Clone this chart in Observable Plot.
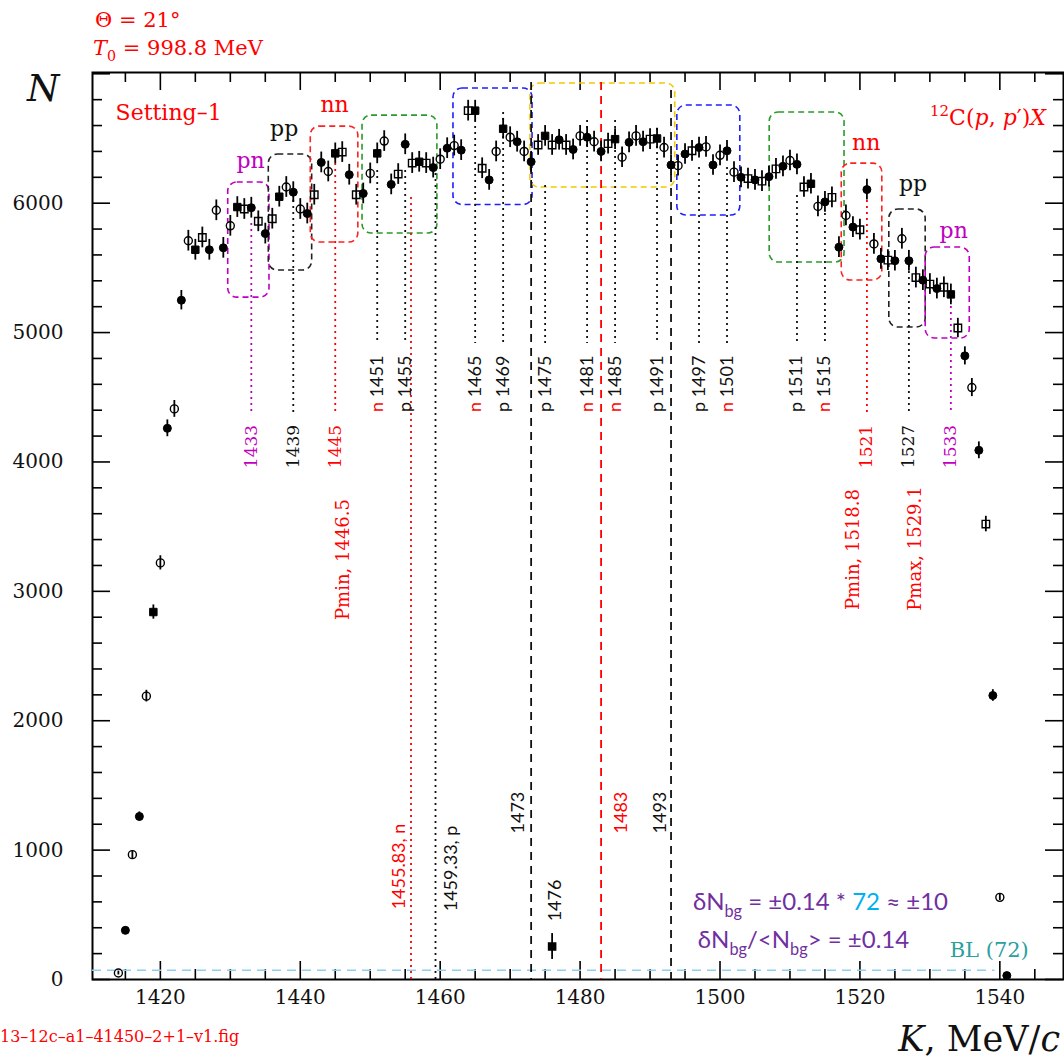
<!DOCTYPE html>
<html><head><meta charset="utf-8">
<script src="https://cdn.jsdelivr.net/npm/d3@7"></script>
<script src="https://cdn.jsdelivr.net/npm/@observablehq/plot@0.6"></script>
<style>body{margin:0;background:#fff}#chart svg{display:block}</style>
</head><body><div id="chart"></div>
<script>
// ---- data ----
const K = [
1414,1415,1416,1417,1418,1419,1420,1421,1422,1423,
1424,1425,1426,1427,1428,1429,1430,1431,1432,1433,
1434,1435,1436,1437,1438,1439,1440,1441,1442,1443,
1444,1445,1446,1447,1448,1449,1450,1451,1452,1453,
1454,1455,1456,1457,1458,1459,1460,1461,1462,1463,
1464,1465,1466,1467,1468,1469,1470,1471,1472,1473,
1474,1475,1476,1477,1478,1479,1480,1481,1482,1483,
1484,1485,1486,1487,1488,1489,1490,1491,1492,1493,
1494,1495,1496,1497,1498,1499,1500,1501,1502,1503,
1504,1505,1506,1507,1508,1509,1510,1511,1512,1513,
1514,1515,1516,1517,1518,1519,1520,1521,1522,1523,
1524,1525,1526,1527,1528,1529,1530,1531,1532,1533,
1534,1535,1536,1537,1538,1539,1540,1541];
const N = [
50,380,965,1260,2190,2840,3220,4260,4410,5250,
5710,5640,5735,5640,5945,5655,5825,5970,5955,5965,
5860,5765,5880,6050,6125,6085,5955,5920,6065,6315,
6245,6385,6395,6220,6065,6075,6230,6385,6480,6145,
6225,6455,6310,6320,6310,6275,6340,6425,6445,6410,
6715,6715,6270,6180,6400,6575,6510,6475,6400,6320,
6450,6520,6450,6490,6450,6415,6520,6510,6475,6400,
6460,6495,6355,6470,6520,6475,6495,6500,6430,6295,
6290,6380,6405,6430,6435,6295,6370,6405,6240,6200,
6190,6180,6170,6205,6265,6285,6330,6300,6125,6150,
5975,6010,6045,5660,5905,5815,5795,6105,5685,5570,
5560,5555,5725,5555,5425,5405,5375,5340,5350,5295,
5035,4820,4575,4090,3520,2195,635,30];
const ERR = [
15,25,30,35,45,55,55,65,65,75,
80,80,80,80,80,80,80,80,80,80,
80,80,80,80,80,80,80,80,80,80,
80,80,80,80,80,80,80,80,80,80,
80,80,80,80,80,80,80,80,80,80,
80,80,80,80,80,80,80,80,80,80,
80,80,80,80,80,80,80,80,80,80,
80,80,80,80,80,80,80,80,80,80,
80,80,80,80,80,80,80,80,80,80,
80,80,80,80,80,80,80,80,80,80,
80,80,80,80,80,80,80,80,80,80,
80,80,80,80,80,80,80,80,80,80,
75,70,70,65,60,45,25,10];
// f = filled, o = open ; c = circle, s = square
const MARK = (
"oc fc oc fc oc fs oc fc oc fc " +
"oc fs os fc oc fc oc fs os fc " +
"os fc os fs oc fc oc fc os fc " +
"oc fs os fc os fc oc fs oc fc " +
"os fc os fs os fc oc fc oc fc " +
"os fs os fc oc fs oc fc oc fc " +
"os fs os fc os fc oc fc oc fc " +
"os fs oc fc oc fc os fs oc fc " +
"oc fc os fc oc fc oc fc oc fc " +
"os fc os fc os fc oc fc os fs " +
"oc fc os fc oc fc os fc oc fc " +
"os fc oc fc os fc os fc os fs " +
"os fc oc fc os fc oc fc").split(" ");

const extraK = [1476], extraN = [255], extraErr = [100];

const xMajor = [1420,1440,1460,1480,1500,1520,1540];
const xMinor = [1415,1425,1430,1435,1445,1450,1455,1465,1470,1475,1485,1490,1495,1505,1510,1515,1525,1530,1535,1545];
const yMajor = [0,1000,2000,3000,4000,5000,6000,7000];
const yMinor = [200,400,600,800,1200,1400,1600,1800,2200,2400,2600,2800,3200,3400,3600,3800,4200,4400,4600,4800,5200,5400,5600,5800,6200,6400,6600,6800];
const xLabels = [1420,1440,1460,1480,1500,1520,1540];
const yLabels = [0,1000,2000,3000,4000,5000,6000];

// dashed boxes: K range, N range, colour
const boxK1 = [1429.7,1435.5,1441.5,1448.9,1461.9,1472.9,1493.9,1507.1,1517.4,1524.2,1529.4];
const boxK2 = [1435.6,1441.7,1448.3,1459.6,1473.2,1493.6,1502.9,1517.8,1523.2,1529.4,1535.7];
const boxN1 = [5270,5480,5696,5766,5986,6121,5905,5541,5402,5039,4954];
const boxN2 = [6160,6376,6592,6677,6886,6925,6755,6701,6306,5951,5657];
const boxColor = ["#c000c0","#222","#ff2020","#2a9a2a","#1f1fff","#f5c800","#1f1fff","#2a9a2a","#ff2020","#222","#c000c0"];
const boxLabelText = ["pn","pp","nn","nn","pp","pn"];
const boxLabelK = [1432.9,1437.7,1444.9,1520.9,1527.6,1533.4];
const boxLabelN = [6330,6577,6762,6469,6152,5789];
const boxLabelColor = ["#c000c0","#111","#ff0000","#ff0000","#111","#c000c0"];

// short dotted marker lines with labels below (group B)
const peakB = [1433,1439,1445,1521,1527,1533];
const peakBTop = [5843,6021,6353,6021,5518,5248];
const peakBColor = ["#c000c0","#111","#ff0000","#ff0000","#111","#c000c0"];
// short dotted marker lines with "n/p" labels (group A)
const peakA = [1451,1455,1465,1469,1475,1481,1485,1491,1497,1501,1511,1515];
const peakATop = [6252,6252,6639,6701,6136,6639,6639,6577,6276,6276,6059,5920];
const peakAType = ["n","p","n","p","p","n","n","p","p","n","p","n"];
const lineABottom = 4915, lineBBottom = 4374, labelABase = 4382, labelBCenter = 4119;

// long lines
const longK = [1455.83,1459.33,1473,1483,1493];
const longTop = [6044,6276,6933,6933,6871];
const longColor = ["#ff0000","#111","#111","#ff0000","#111"];
const longDash = ["2,3","2,4","8,6","8,6","8,6"];
const longLabel = ["1455.83, n","1459.33, p","1473","1483","1493","1476"];
const longLabelK = [1454.2,1461.6,1471.2,1485.9,1491.5,1476.5];
const longLabelN = [873,858,1290,1290,1290,611];
const longLabelColor = ["#ff0000","#111","#111","#ff0000","#111","#111"];

const pminText = ["Pmin, 1446.5","Pmin, 1518.8","Pmax, 1529.1"];
const pminK = [1446.2,1519.1,1527.9];
const pminN = [3246,3323,3331];

const baselineN = 72, baselineK1 = 1410.3, baselineK2 = 1539.3;

// ---- build tables ----
const pts = K.map((k,i)=>({k, n:N[i], e:ERR[i], m:MARK[i]}));
const extra = extraK.map((k,i)=>({k, n:extraN[i], e:extraErr[i]}));
const boxes = boxK1.map((k1,i)=>({k1, k2:boxK2[i], n1:boxN1[i], n2:boxN2[i], c:boxColor[i]}));
const boxLabels = boxLabelText.map((t,i)=>({t, k:boxLabelK[i], n:boxLabelN[i], c:boxLabelColor[i]}));
const linesB = peakB.map((k,i)=>({k, top:peakBTop[i], bot:lineBBottom, c:peakBColor[i]}));
const linesA = peakA.map((k,i)=>({k, top:peakATop[i], bot:lineABottom, c: "#111"}));
const longs = longK.map((k,i)=>({k, top:longTop[i], c:longColor[i], d:longDash[i]}));
const longLabs = longLabel.map((t,i)=>({t, k:longLabelK[i], n:longLabelN[i], c:longLabelColor[i]}));
const pmins = pminText.map((t,i)=>({t, k:pminK[i], n:pminN[i]}));

const plotH = 979 - 72;
const serif = "DejaVu Serif";

const marks = [
  Plot.frame({stroke:"black", strokeWidth:2}),
  Plot.tickX(xMajor, {x:d=>d, insetTop: plotH-18, stroke:"black", strokeWidth:1.6}),
  Plot.tickX(xMinor, {x:d=>d, insetTop: plotH-10, stroke:"black", strokeWidth:1.6}),
  Plot.tickX(xMajor, {x:d=>d, insetBottom: plotH-18, stroke:"black", strokeWidth:1.6}),
  Plot.tickX(xMinor, {x:d=>d, insetBottom: plotH-10, stroke:"black", strokeWidth:1.6}),
  Plot.tickY(yMajor, {y:d=>d, insetRight: 971-18, stroke:"black", strokeWidth:1.6}),
  Plot.tickY(yMinor, {y:d=>d, insetRight: 971-10, stroke:"black", strokeWidth:1.6}),
  Plot.tickY(yMajor, {y:d=>d, insetLeft: 971-18, stroke:"black", strokeWidth:1.6}),
  Plot.tickY(yMinor, {y:d=>d, insetLeft: 971-10, stroke:"black", strokeWidth:1.6}),
  Plot.text(xLabels, {x:d=>d, text:d=>String(d), frameAnchor:"bottom", dy:24, fontSize:20, fontFamily:serif, fill:"#111"}),
  Plot.text(yLabels, {y:d=>d, text:d=>String(d), frameAnchor:"left", dx:-29, textAnchor:"end", fontSize:20, fontFamily:serif, fill:"#111"}),
  Plot.rect(boxes, {x1:"k1", x2:"k2", y1:"n1", y2:"n2", stroke:"c", fill:"none", strokeDasharray:"6,4", strokeWidth:1.6, rx:9}),
  Plot.text(boxLabels, {x:"k", y:"n", text:"t", fill:"c", fontSize:22, fontFamily:serif}),
  Plot.ruleY([{n:baselineN, k1:baselineK1, k2:baselineK2}], {y:"n", x1:"k1", x2:"k2", stroke:"#8ecff0", strokeDasharray:"9,6", strokeWidth:1.6}),
  Plot.ruleX(longs.filter(d=>d.d!=="8,6"), {x:"k", y1:"top", y2:0, stroke:"c", strokeDasharray:"2,4", strokeWidth:1.8}),
  Plot.ruleX(longs.filter(d=>d.d==="8,6"), {x:"k", y1:"top", y2:0, stroke:"c", strokeDasharray:"8,6", strokeWidth:1.8}),
  Plot.ruleX(linesA, {x:"k", y1:"top", y2:"bot", stroke:"c", strokeDasharray:"2,4", strokeWidth:1.8}),
  Plot.ruleX(linesB, {x:"k", y1:"top", y2:"bot", stroke:"c", strokeDasharray:"2,4", strokeWidth:1.8}),
  Plot.dot(pts.filter(d=>d.m==="oc"), {x:"k", y:"n", r:4, symbol:"circle", fill:"white", stroke:"black", strokeWidth:1.4}),
  Plot.dot(pts.filter(d=>d.m==="os"), {x:"k", y:"n", r:4.2, symbol:"square", fill:"white", stroke:"black", strokeWidth:1.4}),
  Plot.dot(pts.filter(d=>d.m==="fc"), {x:"k", y:"n", r:4, symbol:"circle", fill:"black", stroke:"black", strokeWidth:1}),
  Plot.dot(pts.filter(d=>d.m==="fs"), {x:"k", y:"n", r:4.2, symbol:"square", fill:"black", stroke:"black", strokeWidth:1}),
  Plot.ruleX(pts, {x:"k", y1:d=>d.n-d.e, y2:d=>d.n+d.e, stroke:"black", strokeWidth:1.8}),
  Plot.dot(extra, {x:"k", y:"n", r:4, symbol:"square", fill:"black", stroke:"black"}),
  Plot.ruleX(extra, {x:"k", y1:d=>d.n-d.e, y2:d=>d.n+d.e, stroke:"black", strokeWidth:1.8}),
  Plot.text(linesB, {x:"k", y:()=>labelBCenter, text:d=>String(d.k), fill:"c", rotate:-90, fontSize:17, fontFamily:serif}),
  Plot.text(longLabs, {x:"k", y:"n", text:"t", fill:"c", rotate:-90, fontSize:18, fontFamily:"Lato"}),
  Plot.text(pmins, {x:"k", y:"n", text:"t", fill:"#ff0000", rotate:-90, fontSize:18, fontFamily:serif}),
  Plot.text([{k:1413.6, n:6701, t:"Setting\u20131"}], {x:"k", y:"n", text:"t", textAnchor:"start", fill:"#ff0000", fontSize:22, fontFamily:serif})
];

const chart = Plot.plot({
  width:1064, height:1058,
  marginTop:72, marginLeft:92, marginRight:1, marginBottom:79,
  x:{domain:[1410.3,1549.1], axis:null},
  y:{domain:[0,7010], axis:null},
  color:{type:"identity"},
  style:{background:"white", overflow:"visible"},
  marks
});
document.getElementById("chart").appendChild(chart);

const sx = chart.scale("x"), sy = chart.scale("y");
const svg = d3.select(chart);

function rich(x, y, parts, o) {
  const t = svg.append("text").attr("x", x).attr("y", y)
    .attr("font-family", o.font).attr("font-size", o.size)
    .attr("fill", o.fill || "black").attr("text-anchor", o.anchor || "start");
  if (o.transform) t.attr("transform", o.transform);
  let shift = 0;
  for (const p of parts) {
    const s = t.append("tspan").text(p.t);
    const want = p.sub ? o.size*0.3 : p.sup ? -o.size*0.4 : 0;
    if (want !== shift) { s.attr("dy", want - shift); shift = want; }
    if (p.sub || p.sup) s.attr("font-size", o.size*0.68);
    if (p.fill) s.attr("fill", p.fill);
    if (p.italic) s.attr("font-style", "italic");
  }
  return t;
}

rich(95, 27, [{t:"\u0398 = 21\u00b0"}], {font:serif, size:21, fill:"#ff0000"});
rich(93, 55, [{t:"T", italic:true},{t:"0", sub:true},{t:" = 998.8 MeV"}], {font:serif, size:21, fill:"#ff0000"});
rich(27, 101, [{t:"N", italic:true}], {font:serif, size:37, fill:"#111"});
rich(1060, 1051, [{t:"K", italic:true},{t:", MeV/"},{t:"c", italic:true}], {font:serif, size:35, fill:"#111", anchor:"end"});
rich(0, 1042, [{t:"13\u201312c\u2013a1\u201341450\u20132+1\u2013v1.fig"}], {font:serif, size:16, fill:"#ff0000"});

rich(sx.apply(1530.1), sy.apply(6600), [{t:"12", sup:true},{t:"C("},{t:"p", italic:true},{t:", "},{t:"p", italic:true},{t:"\u2032)"},{t:"X", italic:true}], {font:serif, size:22, fill:"#ff0000"});

peakA.forEach((k,i) => {
  const x = sx.apply(k), y = sy.apply(labelABase);
  rich(0, 0, [{t:peakAType[i], fill: peakAType[i]==="n" ? "#ff0000" : "#111"},{t:" " + k}],
    {font:"Lato", size:18, fill:"#111", transform:`translate(${x},${y}) rotate(-90) translate(0,6)`});
});

rich(sx.apply(1496.2), sy.apply(533), [{t:"\u03b4N"},{t:"bg", sub:true},{t:" = \u00b10.14 * "},{t:"72", fill:"#00b0f0"},{t:" \u2248 \u00b110"}], {font:"Lato", size:24, fill:"#7030a0"});
rich(sx.apply(1496.9), sy.apply(240), [{t:"\u03b4N"},{t:"bg", sub:true},{t:"/<N"},{t:"bg", sub:true},{t:"> = \u00b10.14"}], {font:"Lato", size:24, fill:"#7030a0"});
rich(sx.apply(1532.9), sy.apply(170), [{t:"BL (72)"}], {font:serif, size:21, fill:"#2aa0a0"});
</script>
</body></html>
